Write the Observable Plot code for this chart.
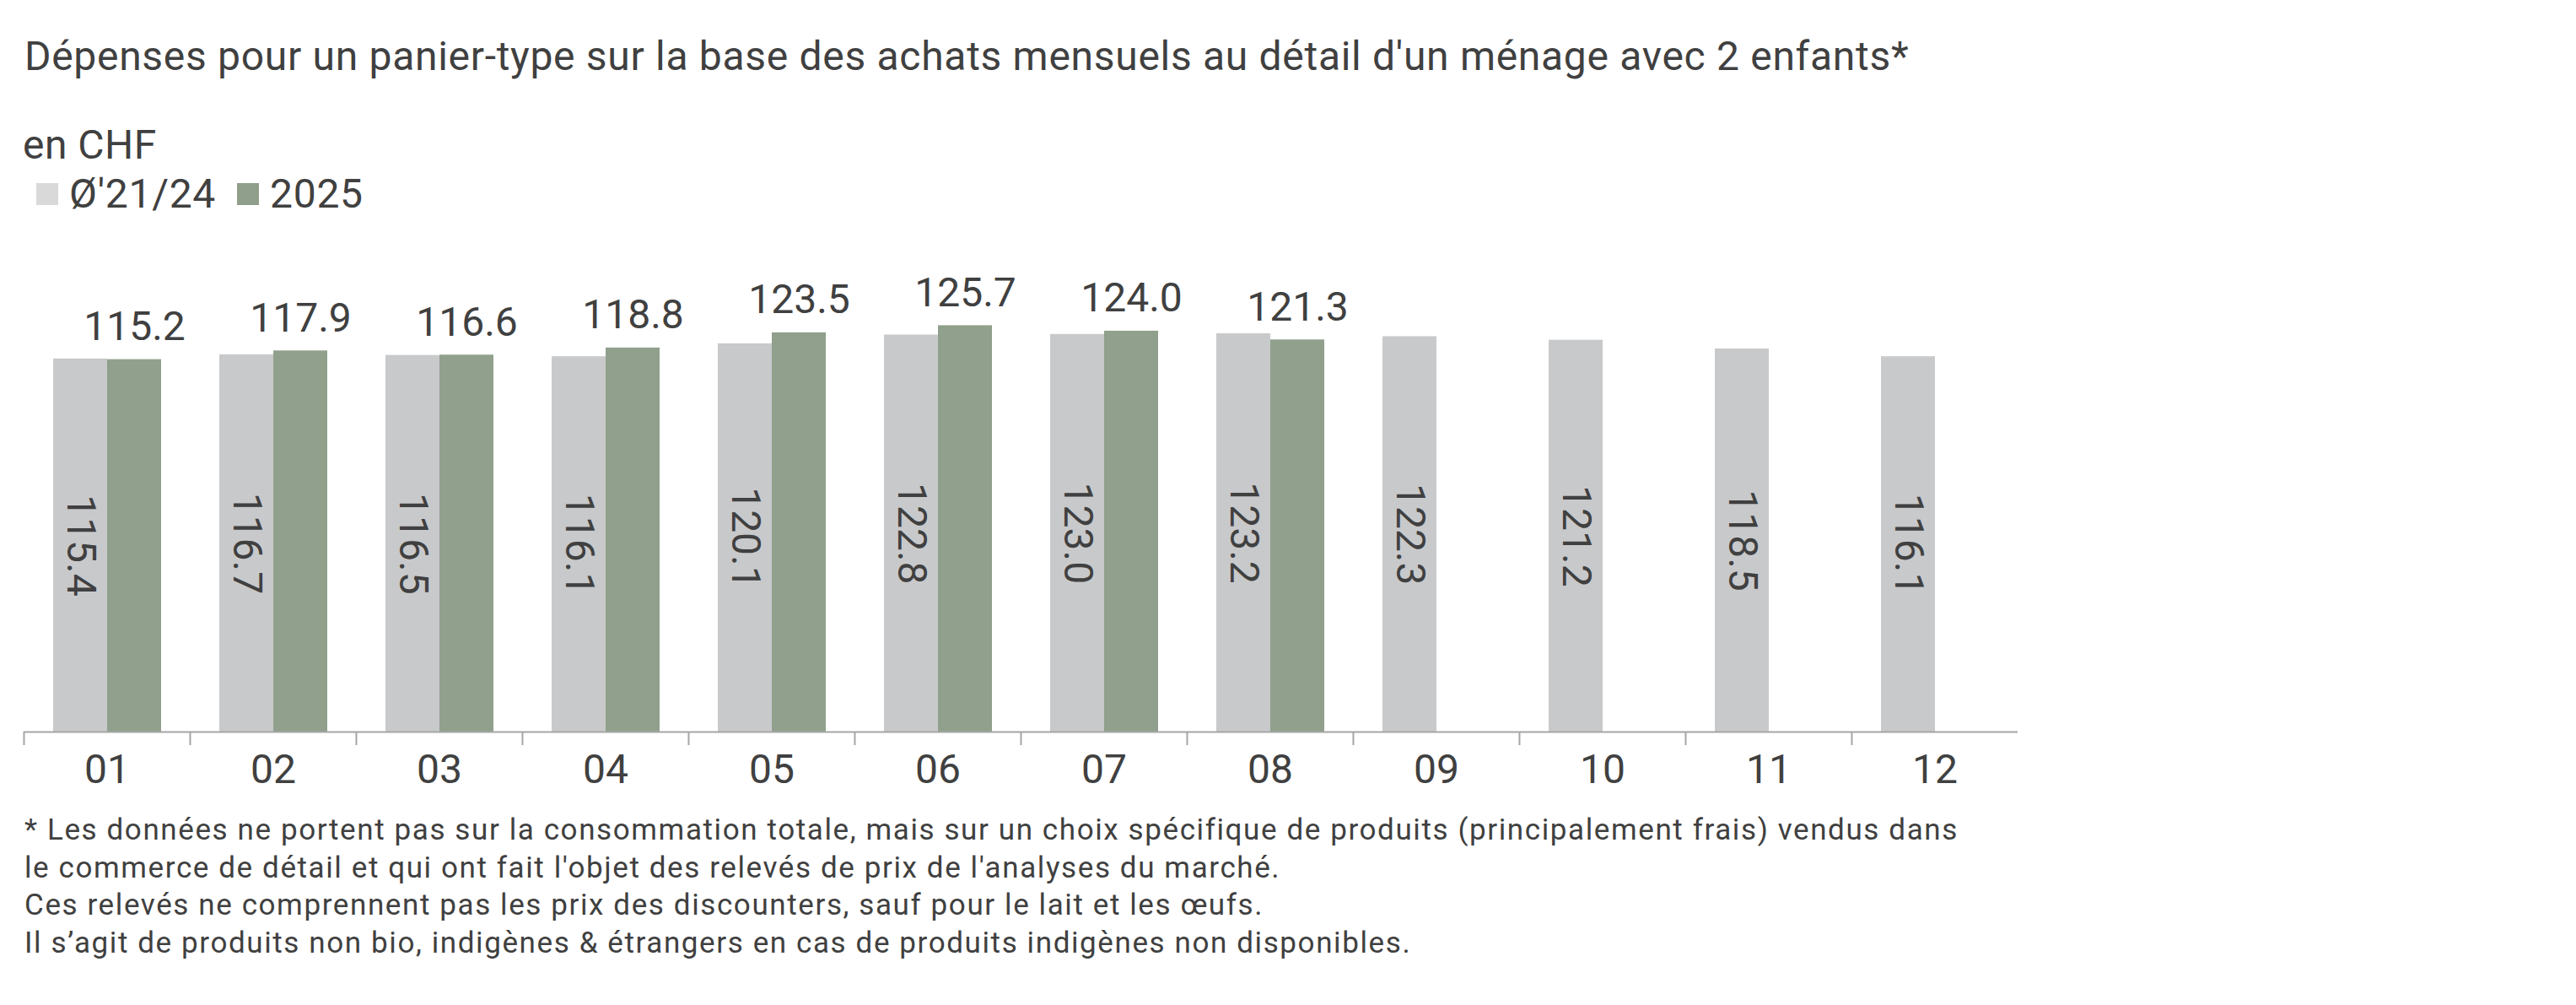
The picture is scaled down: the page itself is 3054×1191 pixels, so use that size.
<!DOCTYPE html>
<html>
<head>
<meta charset="utf-8">
<script src="https://cdn.jsdelivr.net/npm/d3@7"></script>
<script src="https://cdn.jsdelivr.net/npm/@observablehq/plot@0.6"></script>
<style>
  html, body { margin: 0; padding: 0; background: #fff; }
  body { width: 3054px; height: 1191px; position: relative; font-family: Roboto, sans-serif; color: #404040; }
  .abs { position: absolute; white-space: nowrap; }
  #title { left: 29px; top: 43px; font-size: 48px; line-height: 48px; letter-spacing: 0.7px; }
  #unit { left: 27px; top: 148px; font-size: 48px; line-height: 48px; letter-spacing: 0.5px; }
  #legend { left: 43px; top: 206px; height: 48px; display: flex; align-items: center; font-size: 48px; line-height: 48px; letter-spacing: 0.7px; }
  #legend .sw { width: 26px; height: 26px; display: inline-block; }
  #legend .item { display: flex; align-items: center; gap: 13px; margin-right: 25px; }
  #chart { left: 0; top: 254px; }
  #foot { left: 29px; top: 962px; font-size: 35px; line-height: 44.7px; letter-spacing: 1.6px; }
</style>
</head>
<body>
<div id="title" class="abs">Dépenses pour un panier-type sur la base des achats mensuels au détail d'un ménage avec 2 enfants*</div>
<div id="unit" class="abs">en CHF</div>
<div id="legend" class="abs"></div>
<div id="chart" class="abs"></div>
<div id="foot" class="abs"></div>
<script>
const months = ["01","02","03","04","05","06","07","08","09","10","11","12"];
const series = ["Ø'21/24", "2025"];
const avgValues = [115.4, 116.7, 116.5, 116.1, 120.1, 122.8, 123.0, 123.2, 122.3, 121.2, 118.5, 116.1];
const values2025 = [115.2, 117.9, 116.6, 118.8, 123.5, 125.7, 124.0, 121.3];
const barColors = ["#c8c9cb", "#90a08c"];
const legendColors = ["#d9d9d9", "#8f9f8b"];
const footLines = [
  "* Les données ne portent pas sur la consommation totale, mais sur un choix spécifique de produits (principalement frais) vendus dans",
  "le commerce de détail et qui ont fait l'objet des relevés de prix de l'analyses du marché.",
  "Ces relevés ne comprennent pas les prix des discounters, sauf pour le lait et les œufs.",
  "Il s’agit de produits non bio, indigènes & étrangers en cas de produits indigènes non disponibles."
];

const rows = [];
months.forEach((m, i) => {
  rows.push({month: m, series: series[0], value: avgValues[i]});
  if (i < values2025.length) rows.push({month: m, series: series[1], value: values2025[i]});
});

// legend
const legend = document.getElementById("legend");
series.forEach((s, i) => {
  const item = document.createElement("div");
  item.className = "item";
  const sw = document.createElement("span");
  sw.className = "sw";
  sw.style.background = legendColors[i];
  const t = document.createElement("span");
  t.textContent = s;
  item.appendChild(sw); item.appendChild(t);
  legend.appendChild(item);
});

// footnote
document.getElementById("foot").innerHTML = footLines.map(l => `<div>${l}</div>`).join("");

const W = 3054, ML = 27, MR = 662;
const step = (W - ML - MR) / months.length;

const chart = Plot.plot({
  width: W,
  height: 693,
  marginLeft: ML,
  marginRight: MR,
  marginTop: 0,
  marginBottom: 80,
  style: {fontFamily: "Roboto, sans-serif", fontSize: "48px", color: "#404040", background: "transparent"},
  fx: {domain: months, padding: 0, axis: null, label: null},
  x: {domain: series, paddingInner: 0, paddingOuter: 0.516, axis: null},
  y: {domain: [0, 160], axis: null},
  color: {domain: series, range: barColors},
  marks: [
    Plot.barY(rows, {fx: "month", x: "series", y: "value", fill: "series"}),
    Plot.ruleY([0], {stroke: "#a6a6a6", strokeWidth: 2}),
    Plot.text(rows.filter(d => d.series === series[0]), {
      fx: "month", x: "series", y: d => d.value / 2,
      text: d => d.value.toFixed(1), rotate: 90, fill: "#404040", fontSize: 48
    }),
    Plot.text(rows.filter(d => d.series === series[1]), {
      fx: "month", x: "series", y: "value",
      text: d => d.value.toFixed(1), lineAnchor: "bottom", dy: -23, fill: "#404040", fontSize: 48
    }),
    Plot.axisFx({anchor: "bottom", label: null, tickSize: 0, tickPadding: 26, fontSize: 48, fill: "#404040"}),
    Plot.axisFx({anchor: "bottom", label: null, tickSize: 16, tickPadding: 0, tickFormat: () => "", dx: -step / 2, stroke: "#a6a6a6", strokeWidth: 2})
  ]
});
document.getElementById("chart").appendChild(chart);
</script>
</body>
</html>
